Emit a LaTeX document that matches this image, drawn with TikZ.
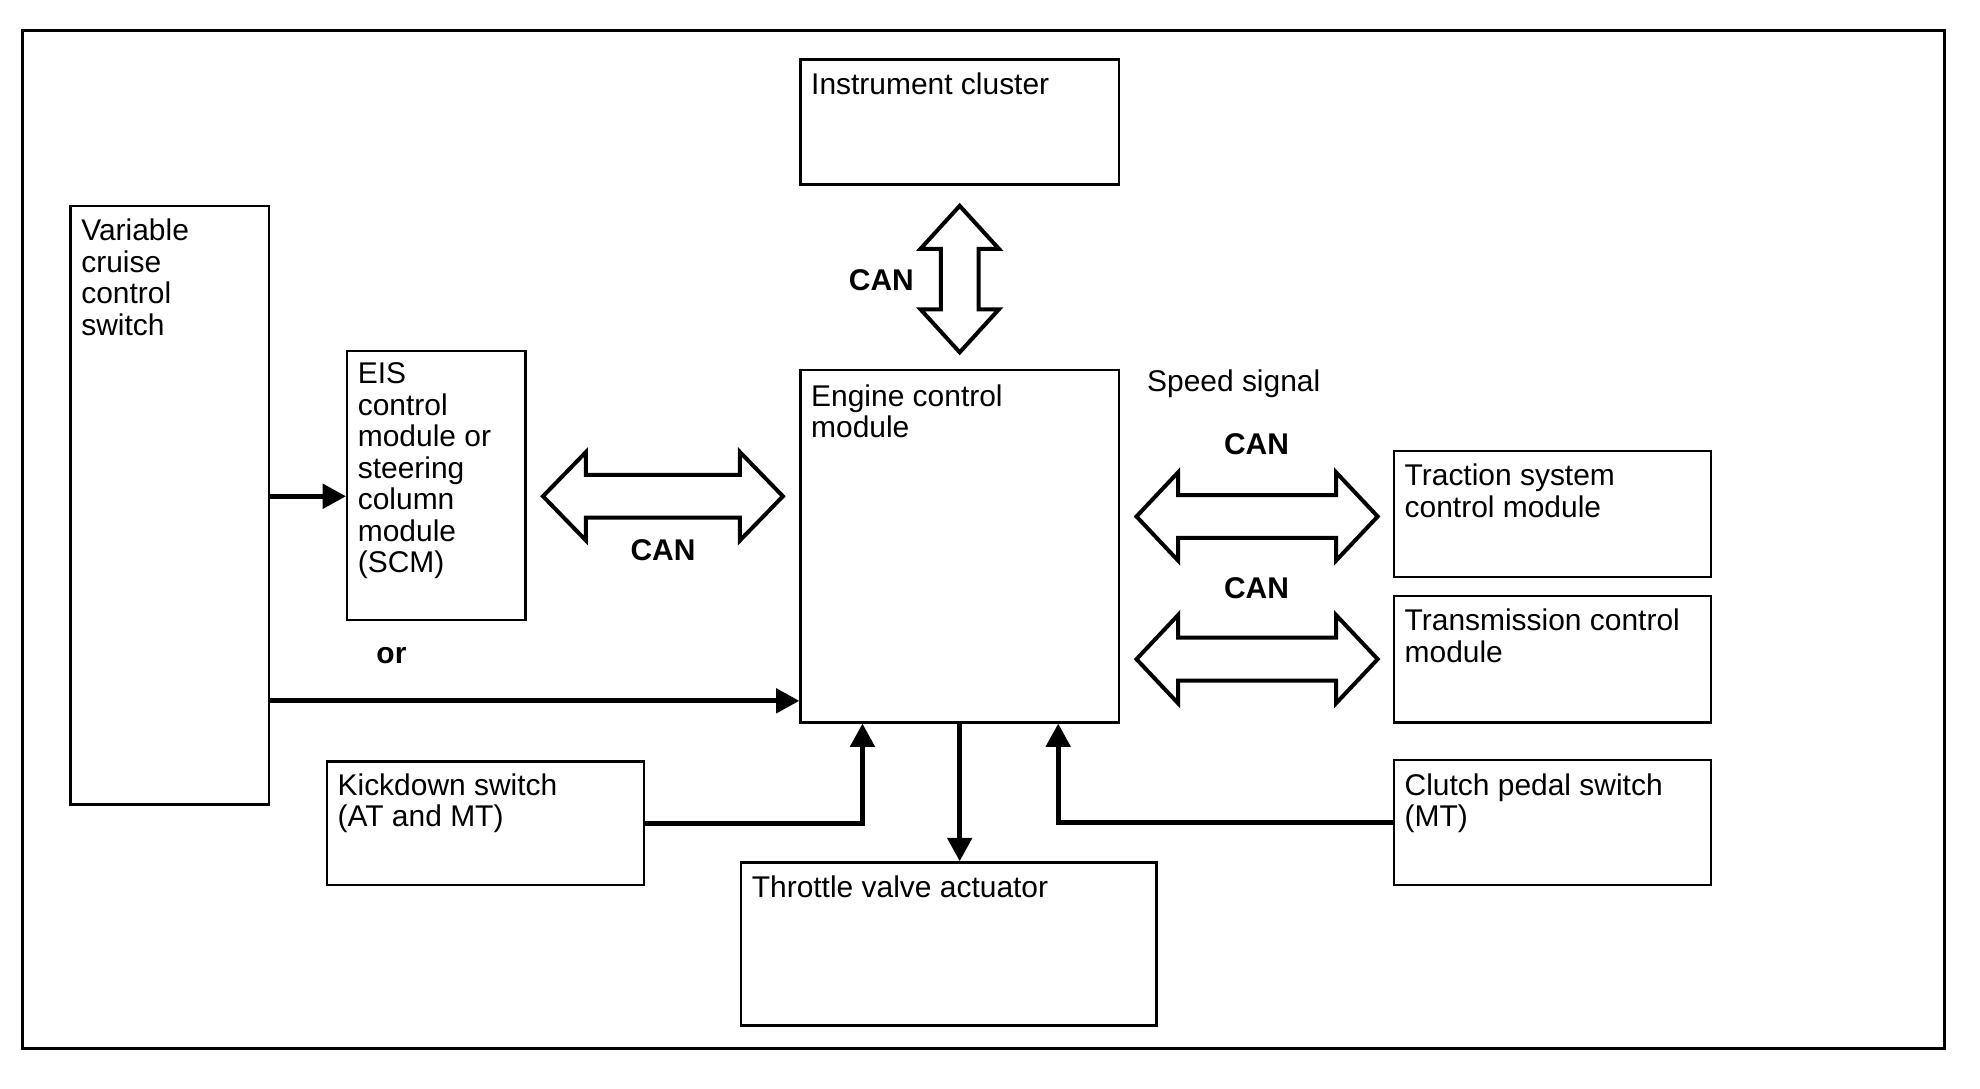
\documentclass[tikz,border=0pt]{standalone}
\usepackage{fontspec}
\setmainfont{Liberation Sans}
\usetikzlibrary{arrows.meta,fit,calc}
\tikzset{
  box/.style={draw, line width=1.1pt, inner sep=0pt},
  frame/.style={draw, line width=1.3pt, inner sep=0pt},
  txt/.style={anchor=north west, inner sep=0pt, align=left, font=\fontsize{13.5}{14.2}\selectfont},
  lbl/.style={inner sep=0pt, font=\fontsize{13.5}{14.2}\selectfont},
  blbl/.style={inner sep=0pt, font=\bfseries\fontsize{13.5}{14.2}\selectfont},
  conn/.style={line width=2.3pt, -{Triangle[length=0.37cm,width=0.38cm]}},
  blockarrow/.style={draw, line width=1.8pt, line join=miter, fill=white},
  pics/dblarrow/.style n args={4}{code={
    \draw[blockarrow] (-#1,0) -- (-#1+#2,#3) -- (-#1+#2,#4) -- (#1-#2,#4) -- (#1-#2,#3) -- (#1,0)
      -- (#1-#2,-#3) -- (#1-#2,-#4) -- (-#1+#2,-#4) -- (-#1+#2,-#3) -- cycle;
  }}
}
\begin{document}
\begin{tikzpicture}[x=0.02cm, y=-0.02cm]
\useasboundingbox (0,0) rectangle (1568,862);
% outer frame
\node[frame, fit={(18,24) (1540,830)}] (outer) {};
% boxes
\node[box, fit={(634,47) (886,146)}] (ic) {};
\node[box, fit={(56,163) (213,637)}] (vccs) {};
\node[box, fit={(275,278) (416,491)}] (eis) {};
\node[box, fit={(634,293) (886,572)}] (ecm) {};
\node[box, fit={(1104,357) (1355,457)}] (tscm) {};
\node[box, fit={(1104,472) (1355,572)}] (tcm) {};
\node[box, fit={(1104,602) (1355,701)}] (cps) {};
\node[box, fit={(259,603) (510,701)}] (kd) {};
\node[box, fit={(587,683) (916,812)}] (tva) {};
% box texts
\node[txt] (ict) at ([shift={(9,11)}]ic.north west) {Instrument cluster};
\node[txt] (vccst) at ([shift={(9,11)}]vccs.north west) {Variable\\cruise\\control\\switch};
\node[txt] (eist) at ([shift={(9,10)}]eis.north west) {EIS\\control\\module or\\steering\\column\\module\\(SCM)};
\node[txt] (ecmt) at ([shift={(9,12)}]ecm.north west) {Engine control\\module};
\node[txt] (tscmt) at ([shift={(9,11)}]tscm.north west) {Traction system\\control module};
\node[txt] (tcmt) at ([shift={(9,11)}]tcm.north west) {Transmission control\\module};
\node[txt] (cpst) at ([shift={(9,11)}]cps.north west) {Clutch pedal switch\\(MT)};
\node[txt] (kdt) at ([shift={(9,10)}]kd.north west) {Kickdown switch\\(AT and MT)};
\node[txt] (tvat) at ([shift={(9,11)}]tva.north west) {Throttle valve actuator};
% block arrows (CAN)
\pic[rotate=90] at (760,221) {dblarrow={58}{34}{31}{15}};
\pic at (525,393) {dblarrow={95}{34}{35}{17}};
\pic at (995.5,409) {dblarrow={95.5}{33}{35}{17}};
\pic at (995.5,522) {dblarrow={95.5}{33}{35}{17}};
% labels
\node[blbl] (can1) at (698,222) {CAN};
\node[lbl] (speed) at (977,304) {Speed signal};
\node[blbl] (can2) at (995,352) {CAN};
\node[blbl] (can3) at (525,436) {CAN};
\node[blbl] (can4) at (995,466) {CAN};
\node[blbl] (or) at (310,519) {or};
% connectors
\draw[conn] (vccs.east |- 0,393) -- (eis.west |- 0,393);
\draw[conn] (vccs.east |- 0,555) -- (ecm.west |- 0,555);
\draw[conn] (kd.east) -| (ecm.south -| 683,0);
\draw[conn] (ecm.south) -- (tva.north -| ecm.south);
\draw[conn] (cps.west) -| (ecm.south -| 838,0);
\end{tikzpicture}
\end{document}
